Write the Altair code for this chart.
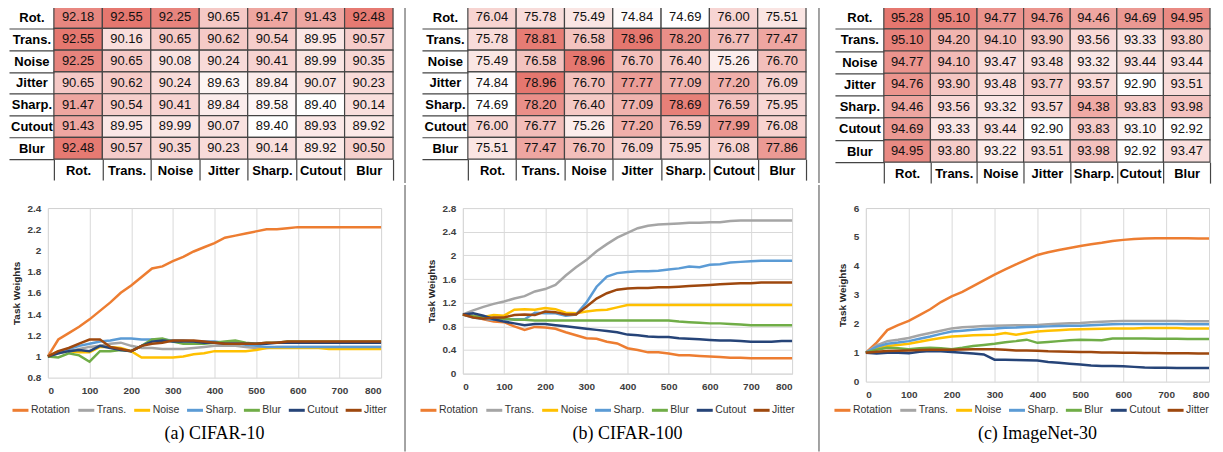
import altair as alt
import pandas as pd

# ---------------- data ----------------
ROWS = ["Rot.", "Trans.", "Noise", "Jitter", "Sharp.", "Cutout", "Blur"]
COLS = ["Rot.", "Trans.", "Noise", "Jitter", "Sharp.", "Cutout", "Blur"]

TABLE_A = [
    [92.18, 92.55, 92.25, 90.65, 91.47, 91.43, 92.48],
    [92.55, 90.16, 90.65, 90.62, 90.54, 89.95, 90.57],
    [92.25, 90.65, 90.08, 90.24, 90.41, 89.99, 90.35],
    [90.65, 90.62, 90.24, 89.63, 89.84, 90.07, 90.23],
    [91.47, 90.54, 90.41, 89.84, 89.58, 89.40, 90.14],
    [91.43, 89.95, 89.99, 90.07, 89.40, 89.93, 89.92],
    [92.48, 90.57, 90.35, 90.23, 90.14, 89.92, 90.50],
]
TABLE_B = [
    [76.04, 75.78, 75.49, 74.84, 74.69, 76.00, 75.51],
    [75.78, 78.81, 76.58, 78.96, 78.20, 76.77, 77.47],
    [75.49, 76.58, 78.96, 76.70, 76.40, 75.26, 76.70],
    [74.84, 78.96, 76.70, 77.77, 77.09, 77.20, 76.09],
    [74.69, 78.20, 76.40, 77.09, 78.69, 76.59, 75.95],
    [76.00, 76.77, 75.26, 77.20, 76.59, 77.99, 76.08],
    [75.51, 77.47, 76.70, 76.09, 75.95, 76.08, 77.86],
]
TABLE_C = [
    [95.28, 95.10, 94.77, 94.76, 94.46, 94.69, 94.95],
    [95.10, 94.20, 94.10, 93.90, 93.56, 93.33, 93.80],
    [94.77, 94.10, 93.47, 93.48, 93.32, 93.44, 93.44],
    [94.76, 93.90, 93.48, 93.77, 93.57, 92.90, 93.51],
    [94.46, 93.56, 93.32, 93.57, 94.38, 93.83, 93.98],
    [94.69, 93.33, 93.44, 92.90, 93.83, 93.10, 92.92],
    [94.95, 93.80, 93.22, 93.51, 93.98, 92.92, 93.47],
]

SERIES = ["Rotation", "Trans.", "Noise", "Sharp.", "Blur", "Cutout", "Jitter"]
COLORS = ["#ED7D31", "#A5A5A5", "#FFC000", "#5B9BD5", "#70AD47", "#264478", "#9E480E"]

STEPS = [0, 25, 50, 75, 100, 125, 150, 175, 200, 225, 250, 275, 300, 325, 350, 375, 400,
         425, 450, 475, 500, 525, 550, 575, 600, 625, 650, 675, 700, 725, 750, 775, 800]
X_TICKS = [0, 100, 200, 300, 400, 500, 600, 700, 800]

# CIFAR-10
A_ROTATION = [1.00, 1.16, 1.22, 1.28, 1.35, 1.43, 1.51, 1.60, 1.67, 1.75, 1.83, 1.85, 1.90, 1.94, 1.99, 2.03, 2.07,
              2.12, 2.14, 2.16, 2.18, 2.20, 2.20, 2.21, 2.22, 2.22, 2.22, 2.22, 2.22, 2.22, 2.22, 2.22, 2.22]
A_TRANS = [1.00, 1.03, 1.05, 1.07, 1.09, 1.10, 1.12, 1.13, 1.10, 1.08, 1.08, 1.07, 1.07, 1.07, 1.08, 1.09, 1.10,
           1.10, 1.10, 1.09, 1.08, 1.08, 1.09, 1.09, 1.09, 1.09, 1.09, 1.09, 1.09, 1.09, 1.09, 1.09, 1.09]
A_NOISE = [1.00, 1.05, 1.05, 1.04, 1.04, 1.09, 1.09, 1.08, 1.05, 0.99, 0.99, 0.99, 0.99, 1.00, 1.02, 1.03, 1.05,
           1.05, 1.05, 1.05, 1.06, 1.08, 1.08, 1.08, 1.08, 1.08, 1.08, 1.07, 1.07, 1.07, 1.07, 1.07, 1.07]
A_SHARP = [1.00, 1.04, 1.07, 1.10, 1.12, 1.14, 1.15, 1.17, 1.17, 1.16, 1.16, 1.16, 1.15, 1.15, 1.14, 1.14, 1.14,
           1.13, 1.13, 1.11, 1.10, 1.09, 1.09, 1.09, 1.09, 1.09, 1.09, 1.09, 1.09, 1.09, 1.09, 1.09, 1.09]
A_BLUR = [1.00, 0.99, 1.03, 1.01, 0.95, 1.05, 1.05, 1.06, 1.05, 1.10, 1.16, 1.17, 1.14, 1.12, 1.12, 1.12, 1.13,
          1.14, 1.15, 1.13, 1.12, 1.13, 1.13, 1.14, 1.14, 1.14, 1.14, 1.14, 1.14, 1.14, 1.14, 1.14, 1.14]
A_CUTOUT = [1.00, 1.03, 1.05, 1.06, 1.05, 1.10, 1.08, 1.06, 1.05, 1.10, 1.14, 1.15, 1.14, 1.14, 1.14, 1.13, 1.13,
            1.12, 1.12, 1.12, 1.12, 1.12, 1.13, 1.13, 1.13, 1.13, 1.13, 1.13, 1.13, 1.13, 1.13, 1.13, 1.13]
A_JITTER = [1.00, 1.05, 1.08, 1.12, 1.16, 1.16, 1.09, 1.07, 1.05, 1.10, 1.12, 1.13, 1.15, 1.15, 1.15, 1.14, 1.13,
            1.12, 1.12, 1.12, 1.12, 1.13, 1.13, 1.14, 1.14, 1.14, 1.14, 1.14, 1.14, 1.14, 1.14, 1.14, 1.14]

# CIFAR-100
B_ROTATION = [1.00, 0.97, 0.92, 0.88, 0.87, 0.80, 0.74, 0.79, 0.78, 0.76, 0.70, 0.65, 0.60, 0.59, 0.54, 0.51, 0.43,
              0.40, 0.36, 0.36, 0.34, 0.31, 0.31, 0.30, 0.29, 0.28, 0.27, 0.27, 0.26, 0.26, 0.26, 0.26, 0.26]
B_TRANS = [1.00, 1.07, 1.13, 1.18, 1.22, 1.27, 1.31, 1.39, 1.43, 1.50, 1.66, 1.80, 1.92, 2.07, 2.19, 2.30, 2.38,
           2.46, 2.50, 2.52, 2.53, 2.54, 2.55, 2.55, 2.56, 2.56, 2.58, 2.59, 2.59, 2.59, 2.59, 2.59, 2.59]
B_NOISE = [1.00, 0.97, 0.96, 0.99, 0.98, 1.08, 1.09, 1.08, 1.11, 1.09, 1.03, 1.02, 1.05, 1.07, 1.08, 1.12, 1.16,
           1.16, 1.16, 1.16, 1.16, 1.16, 1.16, 1.16, 1.16, 1.16, 1.16, 1.16, 1.16, 1.16, 1.16, 1.16, 1.16]
B_SHARP = [1.00, 0.95, 0.93, 0.91, 0.92, 0.92, 0.92, 1.03, 1.02, 1.02, 0.98, 1.00, 1.20, 1.47, 1.64, 1.70, 1.72,
           1.73, 1.73, 1.74, 1.76, 1.78, 1.81, 1.80, 1.84, 1.85, 1.88, 1.89, 1.90, 1.91, 1.91, 1.91, 1.91]
B_BLUR = [1.00, 0.97, 0.95, 0.94, 0.93, 0.91, 0.91, 0.90, 0.90, 0.90, 0.90, 0.90, 0.90, 0.90, 0.90, 0.90, 0.90,
          0.90, 0.90, 0.90, 0.90, 0.88, 0.87, 0.86, 0.85, 0.85, 0.84, 0.83, 0.82, 0.82, 0.82, 0.82, 0.82]
B_CUTOUT = [1.00, 1.02, 0.98, 0.92, 0.88, 0.85, 0.82, 0.84, 0.84, 0.82, 0.80, 0.78, 0.76, 0.74, 0.72, 0.70, 0.66,
            0.65, 0.63, 0.62, 0.62, 0.60, 0.59, 0.58, 0.57, 0.56, 0.56, 0.55, 0.54, 0.54, 0.54, 0.55, 0.55]
B_JITTER = [1.00, 0.95, 0.93, 0.95, 0.95, 0.99, 1.00, 0.99, 1.05, 1.04, 1.00, 1.00, 1.13, 1.27, 1.36, 1.42, 1.44,
            1.45, 1.45, 1.46, 1.46, 1.47, 1.48, 1.49, 1.50, 1.51, 1.52, 1.53, 1.53, 1.54, 1.54, 1.54, 1.54]

# ImageNet-30
C_ROTATION = [1.00, 1.35, 1.78, 1.95, 2.10, 2.30, 2.50, 2.75, 2.95, 3.10, 3.30, 3.50, 3.70, 3.88, 4.05, 4.22, 4.38,
              4.47, 4.55, 4.62, 4.69, 4.75, 4.80, 4.86, 4.90, 4.93, 4.95, 4.96, 4.96, 4.96, 4.96, 4.95, 4.95]
C_TRANS = [1.00, 1.25, 1.40, 1.45, 1.51, 1.60, 1.68, 1.76, 1.84, 1.88, 1.90, 1.92, 1.93, 1.94, 1.95, 1.95, 1.96,
           1.98, 2.00, 2.02, 2.03, 2.05, 2.07, 2.09, 2.10, 2.10, 2.10, 2.10, 2.10, 2.10, 2.09, 2.09, 2.09]
C_NOISE = [1.00, 1.15, 1.23, 1.27, 1.31, 1.38, 1.45, 1.51, 1.56, 1.58, 1.60, 1.61, 1.62, 1.68, 1.62, 1.68, 1.73,
           1.76, 1.78, 1.80, 1.81, 1.82, 1.83, 1.84, 1.84, 1.84, 1.85, 1.85, 1.85, 1.85, 1.84, 1.84, 1.84]
C_SHARP = [1.00, 1.20, 1.31, 1.35, 1.40, 1.48, 1.56, 1.65, 1.73, 1.76, 1.79, 1.82, 1.84, 1.86, 1.87, 1.89, 1.90,
           1.91, 1.92, 1.93, 1.93, 1.95, 1.97, 1.98, 1.99, 1.99, 1.99, 1.99, 1.99, 1.99, 1.98, 1.98, 1.98]
C_BLUR = [1.00, 1.10, 1.17, 1.15, 1.12, 1.15, 1.17, 1.15, 1.12, 1.17, 1.23, 1.27, 1.31, 1.36, 1.40, 1.45, 1.34,
          1.37, 1.40, 1.43, 1.45, 1.44, 1.43, 1.49, 1.49, 1.49, 1.49, 1.48, 1.48, 1.48, 1.47, 1.47, 1.47]
C_CUTOUT = [1.00, 0.97, 1.00, 1.00, 0.98, 1.03, 1.06, 1.05, 1.02, 1.00, 0.97, 0.94, 0.76, 0.76, 0.75, 0.74, 0.73,
            0.68, 0.65, 0.62, 0.59, 0.56, 0.54, 0.54, 0.53, 0.51, 0.49, 0.48, 0.48, 0.47, 0.47, 0.47, 0.47]
C_JITTER = [1.00, 1.03, 1.06, 1.07, 1.08, 1.09, 1.10, 1.10, 1.10, 1.11, 1.12, 1.12, 1.12, 1.10, 1.08, 1.08, 1.07,
            1.05, 1.04, 1.03, 1.02, 1.02, 1.01, 1.01, 1.00, 1.00, 0.99, 0.99, 0.98, 0.98, 0.98, 0.97, 0.97]

A_YTICKS = [0.8, 1.0, 1.2, 1.4, 1.6, 1.8, 2.0, 2.2, 2.4]
B_YTICKS = [0.0, 0.4, 0.8, 1.2, 1.6, 2.0, 2.4, 2.8]
C_YTICKS = [0, 1, 2, 3, 4, 5, 6]

CAPTIONS = ["(a) CIFAR-10", "(b) CIFAR-100", "(c) ImageNet-30"]

# ---------------- styling ----------------
SANS = "Liberation Sans"
SERIF = "Liberation Serif"
RED = "#e5776f"
LINE_GRID = "#d9d9d9"
SEP_COLOR = "#666"
TOP_H = 177      # table block height incl. header row (row 1 bottom bound)
GAP = 23         # gap between header row and line plots
BOTTOM = 244     # separator extent below line plot top


def table_chart(vals, width, height, shift, header_w):
    recs = []
    for i, r in enumerate(ROWS):
        for j, c in enumerate(COLS):
            recs.append({"row": r, "col": c, "v": vals[i][j]})
    df = pd.DataFrame(recs)
    flat = [v for row in vals for v in row]
    lo, hi = min(flat), max(flat)
    step = (width - shift) / 7.0
    po = shift / step / 2.0
    x = alt.X("col:N", sort=COLS,
              scale=alt.Scale(paddingInner=0, paddingOuter=po, align=1),
              axis=alt.Axis(orient="bottom", title=None, tickBand="extent", tickSize=21,
                            tickColor="#444", tickWidth=1.2, domain=False, labelAngle=0,
                            labelFont=SANS, labelFontSize=13, labelFontWeight="bold",
                            labelColor="#000", labelBaseline="middle", labelPadding=-10))
    y = alt.Y("row:N", sort=ROWS,
              scale=alt.Scale(paddingInner=0, paddingOuter=0),
              axis=alt.Axis(title=None, tickBand="extent", tickSize=header_w, offset=-shift,
                            tickColor="#444", tickWidth=1.2, domain=False,
                            labelFont=SANS, labelFontSize=13, labelFontWeight="bold",
                            labelColor="#000", labelAlign="center", labelBaseline="middle",
                            labelPadding=-header_w / 2.0))
    base = alt.Chart(df)
    rect = base.mark_rect(stroke="#444", strokeWidth=1.2).encode(
        x=x, y=y,
        color=alt.Color("v:Q", scale=alt.Scale(domain=[lo, hi], range=["#ffffff", RED],
                                               interpolate="rgb"), legend=None))
    text = base.mark_text(font=SANS, fontSize=13, color="#111").encode(
        x=x, y=y, text=alt.Text("v:Q", format=".2f"))
    return alt.layer(rect, text).properties(width=width, height=height)


def line_chart(series_lists, yticks, ygrid, width, height, lx, ly, caption):
    recs = []
    for name, vals in zip(SERIES, series_lists):
        for s, v in zip(STEPS, vals):
            recs.append({"step": s, "w": v, "series": name})
    df = pd.DataFrame(recs)
    ch = alt.Chart(df).mark_line(strokeWidth=2.5).encode(
        x=alt.X("step:Q", scale=alt.Scale(domain=[0, 800], nice=False),
                axis=alt.Axis(values=X_TICKS, title=None, grid=True, gridColor=LINE_GRID,
                              ticks=False, domain=False, labelFont=SANS, labelFontSize=10,
                              labelFontWeight="bold", labelColor="#404040", labelPadding=8)),
        y=alt.Y("w:Q", scale=alt.Scale(domain=[yticks[0], yticks[-1]], nice=False, zero=False),
                axis=alt.Axis(values=yticks, format="~g", title="Task Weights", grid=ygrid,
                              gridColor=LINE_GRID, ticks=False, domain=False,
                              labelFont=SANS, labelFontSize=10, labelFontWeight="bold",
                              labelColor="#404040", labelPadding=7,
                              titleFont=SANS, titleFontSize=10, titleFontWeight="bold",
                              titleColor="#262626", titlePadding=6)),
        color=alt.Color("series:N", sort=SERIES,
                        scale=alt.Scale(domain=SERIES, range=COLORS),
                        legend=alt.Legend(orient="none", legendX=lx, legendY=ly,
                                          direction="horizontal", title=None,
                                          symbolType="stroke", symbolStrokeWidth=3,
                                          symbolSize=256, labelFont=SANS, labelFontSize=10.5,
                                          labelColor="#333", labelOffset=1, columnPadding=1,
                                          gridAlign="each", padding=0)),
    ).properties(
        width=width, height=height,
        view=alt.ViewBackground(stroke="#d0d0d0", strokeWidth=1),
        title=alt.TitleParams(caption, orient="bottom", anchor="middle", font=SERIF,
                              fontSize=18, fontWeight="normal", color="#000", offset=9),
    )
    return ch


def separator(width, height, pos, y_top, y_bottom):
    return alt.Chart(pd.DataFrame({"a": [0]})).mark_rule(color=SEP_COLOR, strokeWidth=1.2).encode(
        x=alt.value(pos), y=alt.value(y_top), y2=alt.value(y_bottom)
    ).properties(width=width, height=height)


top_row = alt.hconcat(
    table_chart(TABLE_A, 346, 153, 6, 45),
    separator(70, 153, 12, 0, TOP_H),
    table_chart(TABLE_B, 344, 153, 5, 46),
    separator(60, 153, 13, 0, TOP_H),
    table_chart(TABLE_C, 345, 156, 18, 49),
    spacing=0, bounds="flush",
).resolve_scale(color="independent", x="independent", y="independent")

bottom_row = alt.hconcat(
    line_chart([A_ROTATION, A_TRANS, A_NOISE, A_SHARP, A_BLUR, A_CUTOUT, A_JITTER],
               A_YTICKS, False, 334, 170, -37, 193, CAPTIONS[0]),
    separator(82, 166, 24, -GAP, BOTTOM),
    line_chart([B_ROTATION, B_TRANS, B_NOISE, B_SHARP, B_BLUR, B_CUTOUT, B_JITTER],
               B_YTICKS, True, 330, 166, -44, 193, CAPTIONS[1]),
    separator(74, 166, 27, -GAP, BOTTOM),
    line_chart([C_ROTATION, C_TRANS, C_NOISE, C_SHARP, C_BLUR, C_CUTOUT, C_JITTER],
               C_YTICKS, False, 344, 174, -33, 193, CAPTIONS[2]),
    spacing=0, bounds="flush",
).resolve_scale(color="independent", x="independent", y="independent").resolve_legend(
    color="independent")

chart = alt.vconcat(top_row, bottom_row, spacing=0).resolve_scale(
    color="independent", x="independent", y="independent"
).resolve_legend(color="independent").properties(
    padding={"top": -8, "left": 0, "right": 0, "bottom": 0}
).configure_view(stroke=None)

chart.save("out.html", embed_options={"renderer": "svg", "actions": False})
